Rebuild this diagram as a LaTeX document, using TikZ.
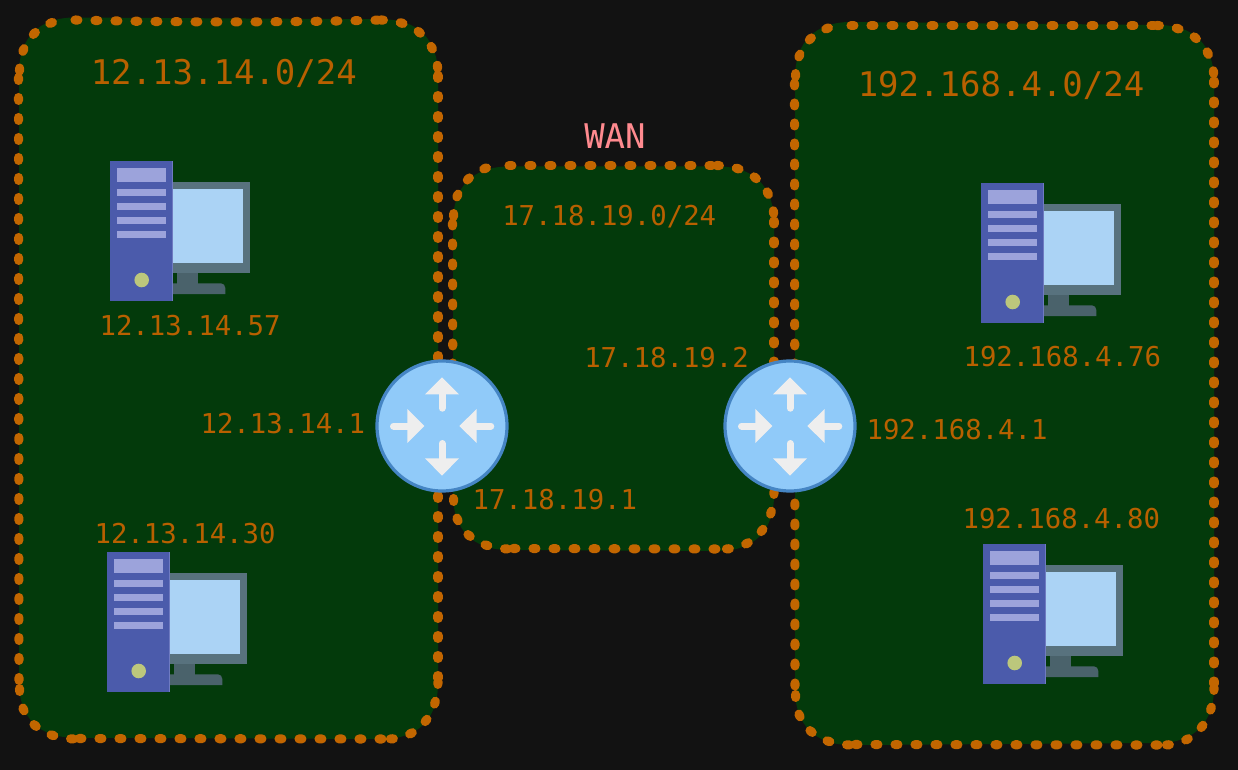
\documentclass[tikz,border=0pt]{standalone}
\usepackage{fontspec}
\setmonofont{DejaVu Sans Mono}
\definecolor{bgc}{HTML}{121212}
\definecolor{boxg}{HTML}{033A0B}
\definecolor{ora}{HTML}{C26600}
\definecolor{txo}{HTML}{B86000}
\definecolor{wanc}{HTML}{FF8A8F}
\definecolor{rfill}{HTML}{90CAF9}
\definecolor{redge}{HTML}{4585C4}
\definecolor{arw}{HTML}{EEEEEE}
\definecolor{frame}{HTML}{58727E}
\definecolor{scr}{HTML}{ABD3F5}
\definecolor{stand}{HTML}{4A626B}
\definecolor{tower}{HTML}{4B5BAB}
\definecolor{slot}{HTML}{9CA3DB}
\definecolor{led}{HTML}{BCC77C}
\tikzset{
  sk/.style={draw=ora,line width=6.8pt,line cap=round,dash pattern=on 2.2pt off 12.8pt},
  lblS/.style={text=txo,anchor=base west,inner sep=0pt,font=\ttfamily\fontsize{20.5pt}{24pt}\selectfont},
  lblB/.style={text=txo,anchor=base west,inner sep=0pt,font=\ttfamily\fontsize{25.5pt}{30pt}\selectfont},
  wanlbl/.style={lblB,text=wanc},
  routerdisc/.style={circle,fill=rfill,draw=redge,line width=2.4pt,minimum size=97.5pt,inner sep=0pt},
  arrowshaft/.style={draw=arw,line width=5.25pt,line cap=round},
  arrowhead/.style={fill=arw},
  pics/router/.style={code={
    \draw[arrowshaft] (0,-14.3-3.5) -- (0,-32);
    \fill[arrowhead] (0,-48.7) -- (17,-31.7) -- (-17,-31.7) -- cycle;
    \draw[arrowshaft] (0,17.5) -- (0,33);
    \fill[arrowhead] (0,49.7) -- (17,32.3) -- (-17,32.3) -- cycle;
    \draw[arrowshaft] (-48.5,0) -- (-34,0);
    \fill[arrowhead] (-17.7,0) -- (-34.7,-17) -- (-34.7,17) -- cycle;
    \draw[arrowshaft] (48.8,0) -- (34,0);
    \fill[arrowhead] (17.3,0) -- (34.7,-17) -- (34.7,17) -- cycle;
  }},
  pics/computer/.style={code={
    \fill[frame] (60,21) rectangle (140,111.7);
    \fill[scr] (60,28) rectangle (133,101.7);
    \fill[stand] (66.7,111.7) rectangle (87.7,123);
    \fill[stand] (60,122.3) -- (111,122.3) .. controls (113.5,122.3) and (115.3,124.5) .. (115.3,127) -- (115.3,133) -- (60,133) -- cycle;
    \fill[tower] (0,0) rectangle (62.7,139.7);
    \draw[draw=slot!45!tower,line width=.7pt] (62.4,0) -- (62.4,139.7);
    \fill[slot] (6.7,6.7) rectangle (56.3,21);
    \fill[slot] (6.7,28) rectangle (56.3,35);
    \fill[slot] (6.7,42) rectangle (56.3,49);
    \fill[slot] (6.7,56) rectangle (56.3,63);
    \fill[slot] (6.7,70) rectangle (56.3,77);
    \fill[led] (31.7,119) circle [radius=7.3];
  }}
}
% fill: four corner points (x1,y1 top-left; x2,y2 top-right; x3,y3 bottom-right; x4,y4 bottom-left)
\newcommand{\sketchfill}[8]{%
  \fill[boxg] (#1,#2+56) .. controls (#1,#2+20) and (#1+20,#2) .. (#1+56,#2)
    -- (#3-56,#4) .. controls (#3-20,#4) and (#3,#4+20) .. (#3,#4+56)
    -- (#5,#6-56) .. controls (#5,#6-20) and (#5-20,#6) .. (#5-56,#6)
    -- (#7+56,#8) .. controls (#7+20,#8) and (#7,#8-20) .. (#7,#8-56) -- cycle;}
% outline: left, top, right, bottom, bow of the top edge
\newcommand{\sketchline}[5]{%
  \draw[sk] (#1+56.5,#2+1) .. controls (#1+150,#2+1+#5) and (#3-150,#2+1+#5) .. (#3-56,#2+1);
  \draw[sk] (#3-57.5,#2+1) .. controls (#3-22,#2+1) and (#3,#2+23) .. (#3,#2+56);
  \draw[sk] (#3,#2+56.5) -- (#3,#4-58);
  \draw[sk] (#3,#4-57.5) .. controls (#3,#4-22) and (#3-22,#4) .. (#3-50,#4);
  \draw[sk] (#1+60.5,#4-.5) -- (#3-56,#4);
  \draw[sk] (#1+1,#4-50.5) .. controls (#1+1,#4-20) and (#1+22,#4-1) .. (#1+56,#4);
  \draw[sk] (#1,#2+58.5) -- (#1+.5,#4-56);
  \draw[sk] (#1+1,#2+52) .. controls (#1+1,#2+24) and (#1+20,#2+1) .. (#1+50,#2+1);}
\begin{document}
\begin{tikzpicture}[x=.75pt,y=-.75pt]
\useasboundingbox (0,0) rectangle (1238,770);
\fill[bgc] (0,0) rectangle (1238,770);
% group areas
\sketchfill{19}{17.5}{438}{19.3}{438}{739}{19}{737.7}
\sketchline{18.5}{19}{438}{739}{2.5}
\sketchfill{453}{166.5}{774}{166.5}{774}{551}{453}{550}
\sketchline{452.5}{164.5}{774}{549}{0}
\sketchfill{795}{22}{1214}{25}{1214}{743}{795}{745}
\sketchline{794.5}{24.5}{1214}{745}{0}
% computers
\path (110,161) pic {computer};
\path (107,552) pic {computer};
\path (981,183) pic {computer};
\path (983,544) pic {computer};
% routers
\node[routerdisc] (routerA) at (442,426) {};
\path (routerA.center) pic {router};
\node[routerdisc] (routerB) at (790,426) {};
\path (routerB.center) pic {router};
% labels
\node[lblB] (netA) at (90.5,85) {12.13.14.0/24};
\node[lblB] (netC) at (857.5,96.5) {192.168.4.0/24};
\node[wanlbl] (wan) at (584,148.5) {WAN};
\node[lblS] (netB) at (502,225) {17.18.19.0/24};
\node[lblS] (hostA) at (99.3,335) {12.13.14.57};
\node[lblS] (gwA) at (200.3,433) {12.13.14.1};
\node[lblS] (hostB) at (94.3,543) {12.13.14.30};
\node[lblS] (wanB) at (584,367) {17.18.19.2};
\node[lblS] (wanA) at (472.3,509.5) {17.18.19.1};
\node[lblS] (hostC) at (963.3,366) {192.168.4.76};
\node[lblS] (gwC) at (866.3,439) {192.168.4.1};
\node[lblS] (hostD) at (962.3,528) {192.168.4.80};
\end{tikzpicture}
\end{document}
